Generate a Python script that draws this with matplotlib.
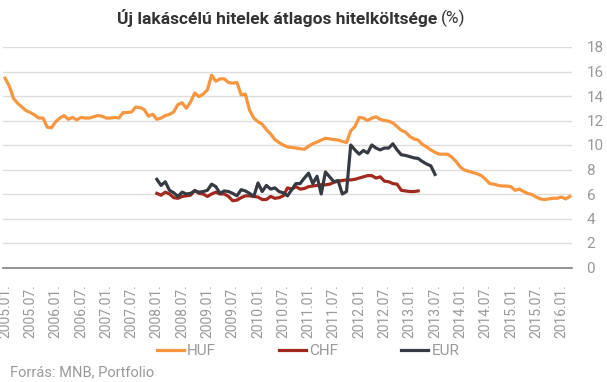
import matplotlib.pyplot as plt
import numpy as np

plt.rcParams['font.family'] = ['Roboto', 'DejaVu Sans']

# havi adatok 2005.01-tól
huf = [15.45, 14.8, 13.8, 13.4, 13.1, 12.8, 12.65, 12.45, 12.2, 12.2,
       11.45, 11.4, 11.9, 12.2, 12.4, 12.1, 12.25, 12.05, 12.25, 12.2,
       12.2, 12.3, 12.4, 12.35, 12.2, 12.2, 12.25, 12.2, 12.65, 12.65,
       12.7, 13.1, 13.05, 12.9, 12.35, 12.5, 12.1, 12.2, 12.4, 12.5,
       12.7, 13.3, 13.45, 13.0, 13.5, 14.25, 13.95, 14.15, 14.5, 15.7,
       15.2, 15.4, 15.4, 15.1, 15.05, 15.1, 14.1, 14.15, 12.85, 12.2,
       11.9, 11.7, 11.25, 10.9, 10.45, 10.2, 10.0, 9.85, 9.8, 9.75,
       9.7, 9.65, 9.9, 10.1, 10.25, 10.4, 10.55, 10.5, 10.45, 10.4,
       10.3, 10.2, 11.15, 11.5, 12.25, 12.2, 12.0, 12.2, 12.3, 12.1,
       12.0, 11.95, 11.8, 11.5, 11.2, 11.05, 10.7, 10.5, 10.4, 10.05,
       9.85, 9.6, 9.4, 9.25, 9.25, 9.25, 9.0, 8.65, 8.2, 7.95,
       7.85, 7.75, 7.65, 7.5, 7.2, 6.85, 6.8, 6.7, 6.65, 6.65,
       6.6, 6.3, 6.4, 6.2, 6.05, 5.95, 5.75, 5.6, 5.55, 5.6,
       5.65, 5.65, 5.75, 5.6, 5.8]

# CHF és EUR 2008.01-tól
fx_start = 36
chf = [6.05, 5.9, 6.15, 6.0, 5.7, 5.65, 5.8, 5.85, 5.9, 6.3,
       6.05, 6.0, 5.8, 6.0, 6.15, 6.0, 6.0, 5.8, 5.45, 5.5,
       5.7, 5.85, 5.85, 5.8, 5.75, 5.55, 5.55, 5.8, 5.65, 5.7,
       5.85, 6.5, 6.4, 6.6, 6.4, 6.45, 6.6, 6.65, 6.7, 6.75,
       6.75, 6.8, 6.95, 7.05, 7.1, 7.15, 7.15, 7.2, 7.3, 7.4,
       7.5, 7.5, 7.3, 7.4, 7.05, 7.0, 6.85, 6.8, 6.3, 6.25,
       6.2, 6.2, 6.25]
eur = [7.2, 6.7, 7.0, 6.3, 6.1, 5.8, 6.15, 6.0, 6.05, 6.25,
       6.15, 6.2, 6.3, 6.8, 6.6, 6.05, 6.25, 6.2, 6.05, 5.85,
       6.35, 6.25, 6.05, 5.8, 6.9, 6.2, 6.7, 6.4, 6.5, 6.2,
       6.1, 5.85, 6.35, 6.85, 6.85, 7.3, 7.7, 6.85, 7.45, 6.0,
       7.8, 7.4, 7.0, 7.1, 6.0, 6.2, 10.0, 9.6, 9.25, 9.55,
       9.35, 10.0, 9.75, 9.6, 9.75, 9.75, 10.1, 9.6, 9.2, 9.15,
       9.05, 8.95, 8.9, 8.65, 8.45, 8.3, 7.6]

tick_labels = []
for y in range(2005, 2017):
    tick_labels += [f'{y}.01.', f'{y}.07.']
tick_labels = tick_labels[:23]

orange = '#f7963f'
red = '#a3291e'
dark = '#363b43'
grey = '#999999'

fig = plt.figure(figsize=(6.07, 3.82), dpi=100)
ax = fig.add_axes([3 / 607, 1 - 267.5 / 382, 569 / 607, 220.5 / 382])

ax.plot(np.arange(len(huf)), huf, color=orange, lw=2.3, label='HUF')
ax.plot(np.arange(len(chf)) + fx_start, chf, color=red, lw=2.3, label='CHF')
ax.plot(np.arange(len(eur)) + fx_start, eur, color=dark, lw=2.3, label='EUR')

ax.set_ylim(0, 18)
ax.set_xlim(-0.5, 134.5)
ax.set_yticks(range(0, 19, 2))
ax.yaxis.tick_right()
ax.grid(axis='y', color='#dcdcdc', lw=1)
ax.set_axisbelow(True)
ax.set_xticks(np.arange(len(tick_labels)) * 6)
ax.set_xticklabels(tick_labels, rotation=90, va='top')
ax.tick_params(axis='x', length=0, pad=12, labelsize=10, labelcolor=grey)
ax.tick_params(axis='y', length=0, pad=10.5, labelsize=11, labelcolor=grey)
for s in ['top', 'left', 'right']:
    ax.spines[s].set_visible(False)
ax.spines['bottom'].set_color('#808080')
ax.spines['bottom'].set_linewidth(1.2)

fig.text(437 / 607, 1 - 18 / 382, 'Új lakáscélú hitelek átlagos hitelköltsége',
         ha='right', va='center', fontsize=12.5, fontweight='bold', color='#333333')
fig.text(441 / 607, 1 - 18 / 382, '(%)', ha='left', va='center',
         fontsize=12.5, color='#333333')

fig.legend(loc='center', bbox_to_anchor=(308 / 607, 1 - 351 / 382), ncol=3,
           frameon=False, fontsize=11, handlelength=1.8, handletextpad=0.2,
           columnspacing=4.1, labelcolor=grey)

fig.text(10 / 607, 1 - 372 / 382, 'Forrás: MNB, Portfolio', ha='left', va='center',
         fontsize=10.5, color=grey)

fig.savefig('out.png', dpi=100)
